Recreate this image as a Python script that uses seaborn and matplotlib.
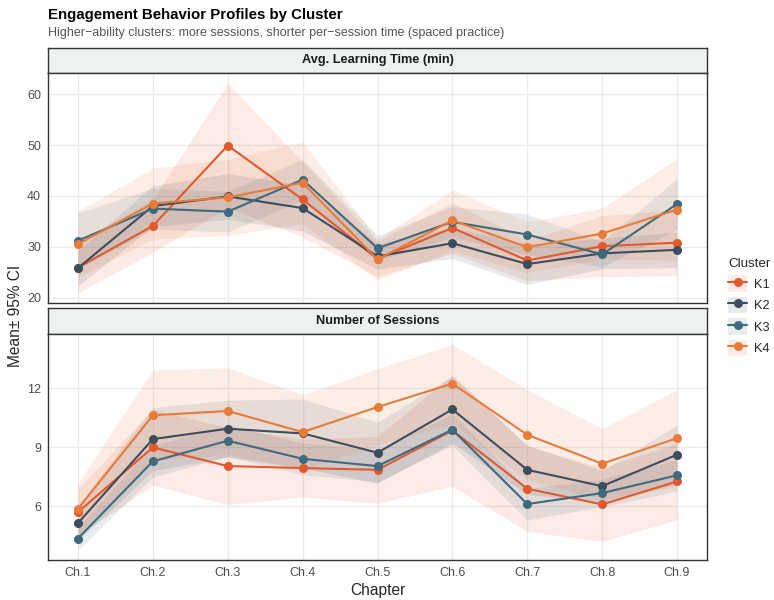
import numpy as np
import pandas as pd
import matplotlib
matplotlib.use('Agg')
import matplotlib.pyplot as plt
from matplotlib.patches import Patch
from matplotlib.lines import Line2D
from matplotlib.legend_handler import HandlerTuple
import seaborn as sns

sns.set_style('white')
plt.rcParams['font.family'] = ['Liberation Sans', 'DejaVu Sans']

chapters = ['Ch.1', 'Ch.2', 'Ch.3', 'Ch.4', 'Ch.5', 'Ch.6', 'Ch.7', 'Ch.8', 'Ch.9']
clusters = ['K1', 'K2', 'K3', 'K4']
colors = ['#E4592B', '#3C4D5D', '#3F6A7D', '#E97B39']

# Avg. learning time (min): means and 95% CI half-widths
time_k1 = [25.9, 34.1, 49.9, 39.3, 27.6, 33.7, 27.3, 30.1, 30.8]
time_k2 = [25.8, 38.0, 39.9, 37.6, 28.1, 30.7, 26.6, 28.7, 29.4]
time_k3 = [31.2, 37.5, 36.9, 43.2, 29.7, 34.9, 32.4, 28.5, 38.4]
time_k4 = [30.5, 38.5, 39.7, 42.6, 27.5, 35.2, 29.9, 32.6, 37.3]
time_ci_k1 = [4.9, 5.2, 12.2, 7.4, 3.5, 5.0, 4.0, 6.0, 6.5]
time_ci_k2 = [3.5, 4.0, 4.5, 4.5, 2.5, 3.0, 4.0, 3.0, 3.5]
time_ci_k3 = [5.5, 4.0, 4.0, 4.0, 2.5, 3.0, 4.0, 2.5, 5.0]
time_ci_k4 = [6.5, 7.0, 7.5, 8.0, 4.0, 6.0, 5.0, 5.0, 10.0]

# Number of sessions: means and 95% CI half-widths
sess_k1 = [5.71, 9.00, 8.05, 7.95, 7.86, 9.86, 6.90, 6.10, 7.27]
sess_k2 = [5.15, 9.42, 9.95, 9.71, 8.73, 10.93, 7.86, 7.03, 8.63]
sess_k3 = [4.37, 8.29, 9.34, 8.42, 8.05, 9.90, 6.12, 6.68, 7.58]
sess_k4 = [5.88, 10.63, 10.85, 9.78, 11.05, 12.24, 9.64, 8.17, 9.47]
sess_ci_k1 = [1.2, 1.93, 1.95, 1.48, 1.7, 2.84, 2.17, 1.88, 1.95]
sess_ci_k2 = [0.9, 1.6, 1.45, 1.75, 1.55, 1.7, 1.25, 0.8, 1.5]
sess_ci_k3 = [0.57, 0.8, 0.8, 0.8, 0.8, 0.8, 0.8, 0.7, 0.8]
sess_ci_k4 = [1.3, 2.3, 2.2, 1.9, 1.95, 2.0, 2.3, 1.8, 2.46]


def build(means, cis):
    rows = []
    for c, m, e in zip(clusters, means, cis):
        for i, (v, h) in enumerate(zip(m, e)):
            rows.append(dict(pos=i, Cluster=c, Mean=v, Lower=v - h, Upper=v + h))
    return pd.DataFrame(rows)


df_time = build([time_k1, time_k2, time_k3, time_k4],
                [time_ci_k1, time_ci_k2, time_ci_k3, time_ci_k4])
df_sess = build([sess_k1, sess_k2, sess_k3, sess_k4],
                [sess_ci_k1, sess_ci_k2, sess_ci_k3, sess_ci_k4])

W, H = 774, 600
fig = plt.figure(figsize=(W / 100, H / 100), dpi=100)


def fx(px):
    return px / W


def fy(py):
    return 1 - py / H


left, right = 48, 707
panels = [
    (df_time, 'Avg. Learning Time (min)', 48, 73, 303, [20, 30, 40, 50, 60]),
    (df_sess, 'Number of Sessions', 308, 334, 560, [6, 9, 12]),
]

axes = []
for df, label, s_top, p_top, p_bot, yt in panels:
    # facet strip
    sax = fig.add_axes([fx(left), fy(p_top), fx(right - left), (p_top - s_top) / H])
    sax.set_facecolor('#EEF1F1')
    sax.set_xticks([])
    sax.set_yticks([])
    for sp in sax.spines.values():
        sp.set_color('#333333')
        sp.set_linewidth(1.0)
    sax.text(0.5, 0.5, label, ha='center', va='center', fontsize=9.2,
             fontweight='bold', color='#1A1A1A', transform=sax.transAxes)

    ax = fig.add_axes([fx(left), fy(p_bot), fx(right - left), (p_bot - p_top) / H])
    for c, col in zip(clusters, colors):
        d = df[df['Cluster'] == c]
        ax.fill_between(d['pos'], d['Lower'], d['Upper'], color=col,
                        alpha=0.12, linewidth=0, zorder=1)
    sns.lineplot(data=df, x='pos', y='Mean', hue='Cluster', palette=colors,
                 marker='o', markersize=6.5, markeredgewidth=0, linewidth=1.5,
                 legend=False, ax=ax, zorder=3)
    ax.set_xlim(-0.4, len(chapters) - 0.6)
    lo = df['Lower'].min()
    hi = df['Upper'].max()
    pad = (hi - lo) * 0.05
    ax.set_ylim(lo - pad, hi + pad)
    ax.set_yticks(yt)
    ax.set_xticks(range(len(chapters)))
    ax.set_xticklabels(chapters)
    ax.grid(True, color='#EBEBEB', linewidth=1.0, zorder=0)
    ax.set_axisbelow(True)
    for sp in ax.spines.values():
        sp.set_color('#333333')
        sp.set_linewidth(1.0)
    ax.tick_params(axis='both', length=3, width=0.8, color='#333333',
                   labelcolor='#4D4D4D', labelsize=9, pad=2)
    ax.set_xlabel('')
    ax.set_ylabel('')
    axes.append(ax)

axes[0].tick_params(axis='x', labelbottom=False)

fig.text(fx(48), fy(15), 'Engagement Behavior Profiles by Cluster',
         fontsize=10.8, fontweight='bold', va='center', ha='left', color='black')
fig.text(fx(48), fy(33),
         'Higher\u2212ability clusters: more sessions, shorter per\u2212session time (spaced practice)',
         fontsize=9, va='center', ha='left', color='#555555')
fig.text(fx(378), fy(590), 'Chapter', fontsize=11.2, ha='center', va='center')
fig.text(fx(16), fy(316), 'Mean\u00b1 95% CI', fontsize=11.2, ha='center',
         va='center', rotation=90)

handles = [(Patch(facecolor=col, alpha=0.12, edgecolor='none'),
            Line2D([], [], color=col, marker='o', markersize=6.5,
                   markeredgewidth=0, linewidth=1.5))
           for col in colors]
fig.legend(handles, clusters, title='Cluster', loc='upper left',
           bbox_to_anchor=(fx(727), fy(257)), frameon=False, borderpad=0.1,
           borderaxespad=0,
           handler_map={tuple: HandlerTuple(ndivide=1, pad=0)},
           fontsize=9.2, title_fontsize=9.6, handlelength=1.5, handleheight=1.6,
           labelspacing=0.4, handletextpad=0.5, alignment='left')

fig.savefig('out.png', dpi=100)
